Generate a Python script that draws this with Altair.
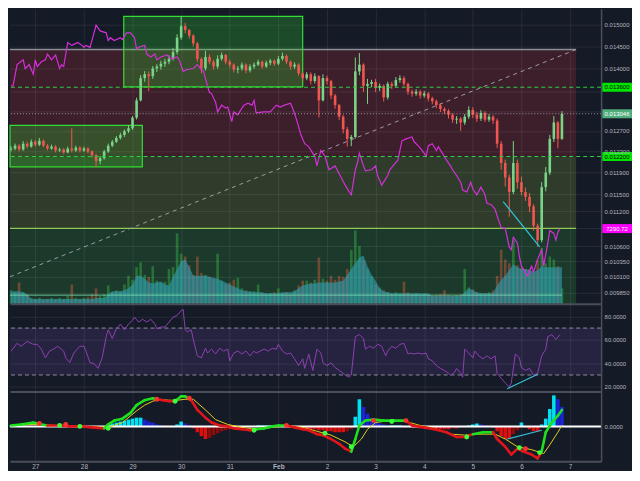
import altair as alt
import numpy as np
import pandas as pd

W, H1, H2, H3 = 593, 296, 88, 70
BG = "#151a27"
AXC = "#4a4e5a"
LBL = "#b2b5be"
FONT = "Liberation Sans"
BOX = "M-1,-0.3L1,-0.3L1,0.3L-1,0.3Z"

# ---------------- data (2-hour candles starting 2018-01-26 12:00) ----------------
candle_start = "2018-01-26 12:00"
first_open = 0.012335
close = [0.012353, 0.012409, 0.012335, 0.012447, 0.012391, 0.012485, 0.012428, 0.012504, 0.012409, 0.012353,
         0.012391, 0.012316, 0.012335, 0.012279, 0.012353, 0.012316, 0.012372, 0.012316, 0.012353, 0.012297,
         0.012223, 0.012113, 0.012168, 0.012297, 0.012409, 0.012485, 0.012561, 0.012618, 0.012694, 0.012752,
         0.012966, 0.013324, 0.013796, 0.013880, 0.013838, 0.014007, 0.014049, 0.014113, 0.014156, 0.014220,
         0.014372, 0.014701, 0.014970, 0.014880, 0.014746, 0.014568, 0.014220, 0.014007, 0.014263, 0.014156,
         0.014049, 0.014220, 0.014306, 0.014156, 0.014091, 0.013985, 0.014007, 0.014091, 0.013964, 0.014049,
         0.014091, 0.014156, 0.014049, 0.014134, 0.014177, 0.014113, 0.014220, 0.014285, 0.014156, 0.014049,
         0.014091, 0.013901, 0.013796, 0.013880, 0.013734, 0.013838, 0.013324, 0.013796, 0.013734, 0.013425,
         0.013224, 0.012986, 0.012733, 0.012542, 0.012580, 0.013943, 0.014091, 0.013630, 0.013672, 0.013713,
         0.013589, 0.013630, 0.013385, 0.013672, 0.013630, 0.013755, 0.013796, 0.013672, 0.013507, 0.013466,
         0.013507, 0.013425, 0.013466, 0.013365, 0.013304, 0.013224, 0.013144, 0.013104, 0.013025, 0.012927,
         0.012947, 0.012869, 0.012986, 0.013124, 0.013025, 0.012947, 0.013065, 0.012927, 0.012986, 0.012908,
         0.012447, 0.012076, 0.011805, 0.011540, 0.012076, 0.011716, 0.011540, 0.011453, 0.011281, 0.010945,
         0.010699, 0.011628, 0.011895, 0.012542, 0.012869, 0.012542, 0.013046]
high = [0.01240, 0.01245, 0.01244, 0.01250, 0.01249, 0.01253, 0.01252, 0.01256, 0.01253, 0.01244,
        0.01243, 0.01242, 0.01237, 0.01236, 0.01239, 0.01275, 0.01241, 0.01240, 0.01239, 0.01238,
        0.01232, 0.01225, 0.01221, 0.01233, 0.01245, 0.01252, 0.01260, 0.01266, 0.01273, 0.01281,
        0.01300, 0.01338, 0.01386, 0.01395, 0.01394, 0.01406, 0.01410, 0.01418, 0.01422, 0.01430,
        0.01446, 0.01478, 0.01520, 0.01505, 0.01490, 0.01478, 0.01460, 0.01425, 0.01440, 0.01432,
        0.01420, 0.01430, 0.01436, 0.01433, 0.01420, 0.01412, 0.01406, 0.01414, 0.01412, 0.01410,
        0.01414, 0.01420, 0.01418, 0.01418, 0.01422, 0.01421, 0.01428, 0.01436, 0.01432, 0.01418,
        0.01414, 0.01412, 0.01392, 0.01393, 0.01392, 0.01390, 0.01386, 0.01388, 0.01385, 0.01376,
        0.01346, 0.01325, 0.01302, 0.01278, 0.01262, 0.01425, 0.01435, 0.01412, 0.01378, 0.01376,
        0.01378, 0.01368, 0.01366, 0.01372, 0.01372, 0.01382, 0.01386, 0.01384, 0.01370, 0.01355,
        0.01356, 0.01354, 0.01352, 0.01350, 0.01340, 0.01334, 0.01326, 0.01318, 0.01314, 0.01306,
        0.01300, 0.01298, 0.01304, 0.01320, 0.01318, 0.01308, 0.01312, 0.01310, 0.01304, 0.01302,
        0.01295, 0.01250, 0.01214, 0.01186, 0.01250, 0.01214, 0.01182, 0.01162, 0.01152, 0.01132,
        0.01098, 0.01172, 0.01200, 0.01262, 0.01300, 0.01290, 0.01310]
low = [0.01230, 0.01232, 0.01230, 0.01231, 0.01236, 0.01237, 0.01239, 0.01240, 0.01238, 0.01232,
       0.01233, 0.01228, 0.01229, 0.01225, 0.01226, 0.01228, 0.01229, 0.01228, 0.01229, 0.01226,
       0.01218, 0.01200, 0.01205, 0.01214, 0.01227, 0.01238, 0.01246, 0.01253, 0.01258, 0.01266,
       0.01272, 0.01293, 0.01330, 0.01372, 0.01352, 0.01378, 0.01393, 0.01398, 0.01404, 0.01410,
       0.01418, 0.01432, 0.01465, 0.01480, 0.01468, 0.01450, 0.01415, 0.01390, 0.01396, 0.01410,
       0.01398, 0.01400, 0.01418, 0.01410, 0.01402, 0.01392, 0.01390, 0.01396, 0.01390, 0.01392,
       0.01400, 0.01406, 0.01400, 0.01402, 0.01408, 0.01406, 0.01408, 0.01418, 0.01410, 0.01398,
       0.01400, 0.01385, 0.01374, 0.01375, 0.01366, 0.01368, 0.01297, 0.01330, 0.01366, 0.01335,
       0.01315, 0.01292, 0.01265, 0.01239, 0.01240, 0.01255, 0.01386, 0.01350, 0.01325, 0.01360,
       0.01350, 0.01352, 0.01330, 0.01334, 0.01356, 0.01360, 0.01370, 0.01362, 0.01344, 0.01340,
       0.01342, 0.01336, 0.01338, 0.01330, 0.01324, 0.01316, 0.01308, 0.01304, 0.01295, 0.01286,
       0.01284, 0.01270, 0.01282, 0.01294, 0.01296, 0.01288, 0.01290, 0.01288, 0.01288, 0.01284,
       0.01236, 0.01195, 0.01164, 0.01110, 0.01150, 0.01160, 0.01148, 0.01138, 0.01118, 0.01086,
       0.01059, 0.01066, 0.01155, 0.01185, 0.01248, 0.01236, 0.01252]
volume = [140, 120, 220, 120, 100, 60, 50, 60, 40, 50,
          60, 50, 60, 50, 80, 200, 60, 50, 60, 70,
          100, 160, 80, 100, 190, 120, 140, 130, 200, 290,
          250, 380, 430, 300, 280, 390, 240, 220, 230, 360,
          380, 730, 520, 490, 400, 300, 490, 320, 300, 280,
          260, 520, 240, 200, 220, 250, 270, 160, 140, 120,
          130, 200, 110, 100, 110, 120, 160, 110, 120, 100,
          140, 190, 240, 240, 220, 250, 480, 260, 240, 290,
          250, 290, 280, 360, 560, 760, 600, 450, 360, 280,
          200, 170, 140, 120, 110, 120, 110, 230, 120, 100,
          110, 90, 100, 90, 80, 90, 100, 140, 90, 80,
          90, 100, 360, 170, 150, 120, 110, 110, 120, 140,
          290, 560, 460, 420, 660, 400, 370, 360, 360, 340,
          450, 580, 420, 490, 460, 390, 160]
volume_ma = [130, 130, 130, 120, 100, 50, 50, 50, 50, 50,
             50, 50, 50, 50, 50, 50, 50, 50, 50, 50,
             50, 60, 60, 60, 100, 130, 130, 130, 140, 160,
             200, 290, 290, 260, 220, 210, 220, 230, 200, 190,
             280, 360, 440, 460, 380, 290, 290, 290, 290, 280,
             270, 260, 240, 220, 200, 180, 160, 140, 130, 130,
             120, 120, 120, 110, 110, 110, 110, 120, 120, 120,
             130, 160, 190, 200, 210, 210, 220, 220, 220, 220,
             220, 230, 240, 300, 360, 420, 480, 500, 390, 300,
             240, 160, 130, 120, 110, 110, 110, 110, 110, 110,
             110, 110, 110, 110, 80, 80, 80, 80, 80, 80,
             80, 80, 120, 160, 140, 120, 110, 110, 110, 110,
             190, 250, 290, 350, 410, 380, 360, 360, 350, 330,
             350, 390, 380, 380, 380, 380, 380]
macd_hist = [1, 1, 1, 1, 0, 0, 0, 0, 0, 0,
             0, 0, 0, 0, 0, 0, 0, 0, 0, 0,
             -1, -1, -1, 0, 2, 3, 4, 5, 6, 7,
             8, 9, 9, 7, 5, 4, 2, 1, 0, 0,
             0, 2, 5, 3, 1, -2, -6, -10, -13, -12,
             -9, -7, -5, -4, -3, -2, -2, -1, -1, -1,
             0, 1, 1, 1, 1, 1, 1, 0, 0, -1,
             -1, -2, -2, -3, -3, -3, -4, -4, -5, -5,
             -6, -6, -6, -5, -3, 10, 28, 20, 13, 8,
             5, 3, 2, 1, 1, 1, 1, 0, 0, -1,
             -1, -2, -2, -2, -2, -3, -3, -3, -3, -2,
             -2, -1, 0, 1, 2, 3, 2, 1, 0, -1,
             -5, -10, -13, -13, -8, -4, 4, -1, -3, -5,
             -5, 2, 8, 18, 32, 28, 20]

# BTC/USD overlay (hours after candle_start)
btc_hours = [0, 1, 3, 6, 7, 9, 11, 12, 13, 15,
             17, 18, 20, 22, 24, 25, 26, 28, 30, 31,
             33, 35, 36, 37, 39, 41, 42, 44, 47, 48,
             49, 51, 54, 55, 57, 59, 61, 62, 63, 66,
             67, 69, 71, 72, 74, 77, 79, 82, 83, 85,
             87, 90, 92, 94, 95, 97, 98, 99, 101, 102,
             104, 106, 107, 109, 110, 112, 114, 115, 117, 119,
             120, 121, 125, 128, 131, 133, 135, 138, 139, 141,
             143, 144, 145, 147, 149, 150, 151, 153, 155, 156,
             157, 160, 163, 165, 167, 168, 169, 170, 171, 172,
             174, 175, 178, 180, 181, 183, 186, 187, 189, 191,
             192, 193, 195, 198, 199, 201, 203, 205, 206, 208,
             210, 211, 213, 215, 217, 218, 220, 222, 223, 225,
             227, 228, 230, 232, 234, 235, 237, 239, 240, 242,
             244, 246, 247, 248, 250, 251, 252, 253, 255, 257,
             258, 260, 262, 263, 265, 266, 268, 269, 270, 271]
btc = [10251, 10251, 10691, 10791, 10611, 10691, 10491, 10791, 10651, 10751,
       10791, 10911, 10791, 10891, 10611, 10691, 10651, 11151, 11091, 11111,
       11151, 11091, 11051, 11091, 11051, 11351, 11511, 11391, 11351, 11191,
       11251, 11191, 11251, 11211, 11351, 11351, 11251, 11011, 11051, 11091,
       10911, 10851, 10911, 10791, 10851, 10891, 10811, 10851, 10791, 10551,
       10591, 10611, 10691, 10591, 10551, 10251, 10111, 10091, 9911, 9711,
       9851, 9791, 9811, 9511, 9711, 9651, 9791, 9851, 9891, 9851,
       9951, 9691, 9711, 9711, 9851, 9811, 9851, 9891, 9791, 9551,
       9251, 9151, 9051, 8991, 8851, 8791, 8591, 8911, 8791, 8651,
       8511, 8591, 8351, 8191, 8051, 7991, 8251, 8511, 8651, 8851,
       8591, 8491, 8511, 8591, 8391, 8191, 8391, 8511, 8611, 8711,
       8911, 9111, 9151, 9191, 9091, 9011, 8911, 8791, 9011, 9051,
       8911, 8991, 8851, 8711, 8591, 8511, 8391, 8251, 8091, 8051,
       8251, 8111, 7991, 8151, 7991, 7811, 7791, 7691, 7551, 7311,
       7291, 6911, 6851, 7111, 6991, 6711, 6511, 6451, 6311, 6511,
       6391, 6651, 6851, 6511, 6991, 7251, 7191, 7051, 7211, 7290.72]

rsi_hours = [0, 3, 5, 8, 11, 13, 15, 17, 19, 21,
             23, 26, 27, 29, 31, 34, 36, 37, 39, 41,
             43, 45, 47, 48, 50, 52, 54, 56, 58, 60,
             61, 63, 65, 67, 69, 71, 72, 74, 76, 78,
             80, 82, 84, 85, 86, 87, 89, 90, 92, 94,
             96, 97, 99, 101, 103, 105, 107, 108, 110, 112,
             114, 116, 118, 120, 121, 123, 125, 127, 129, 131,
             132, 134, 136, 138, 140, 142, 144, 145, 147, 149,
             151, 153, 154, 156, 158, 160, 162, 164, 165, 167,
             168, 170, 172, 174, 175, 177, 179, 181, 183, 185,
             186, 188, 190, 192, 194, 196, 197, 199, 201, 203,
             205, 206, 208, 210, 212, 214, 216, 217, 219, 220,
             222, 223, 224, 226, 228, 229, 231, 233, 235, 237,
             239, 240, 242, 244, 246, 247, 249, 251, 252, 254,
             256, 258, 260, 262, 264, 265, 267, 269, 271]
rsi = [50.4, 57.0, 54.5, 58.6, 56.1, 56.1, 52.0, 44.6, 50.4, 52.0,
       54.5, 50.4, 44.6, 40.5, 48.7, 54.5, 54.5, 50.4, 40.5, 39.7,
       35.6, 44.6, 62.7, 68.5, 61.1, 69.3, 73.4, 68.5, 73.4, 76.7,
       79.2, 75.1, 77.5, 75.1, 77.5, 73.4, 69.3, 70.9, 70.9, 75.1,
       79.2, 80.8, 84.9, 85.8, 68.5, 66.8, 68.5, 60.2, 46.3, 44.6,
       52.8, 48.7, 52.0, 47.9, 52.8, 50.4, 52.0, 42.1, 48.7, 50.4,
       47.9, 50.4, 46.3, 50.4, 48.7, 50.4, 52.0, 50.4, 52.8, 52.0,
       56.1, 50.4, 47.9, 48.7, 43.8, 38.0, 43.8, 35.6, 47.9, 33.9,
       52.0, 48.7, 40.5, 38.0, 40.5, 36.4, 33.9, 31.4, 29.8, 28.1,
       29.8, 62.7, 64.4, 61.1, 52.0, 54.5, 52.8, 56.1, 54.5, 46.3,
       50.4, 54.5, 52.8, 56.1, 57.0, 47.9, 48.7, 47.9, 48.7, 47.9,
       48.7, 43.8, 42.1, 38.0, 35.6, 33.9, 31.4, 29.8, 32.3, 35.6,
       31.4, 28.1, 52.0, 48.7, 44.6, 50.4, 46.3, 43.8, 46.3, 43.8,
       46.3, 31.4, 27.3, 23.2, 19.9, 23.2, 47.9, 44.6, 36.4, 33.9,
       35.6, 29.8, 31.4, 46.3, 52.0, 62.7, 64.4, 60.2, 64.4]

# MACD values in units of 1e-5
macd_hours = [0, 5, 11, 15, 18, 24, 29, 35, 40, 46,
              48, 51, 55, 59, 62, 66, 70, 72, 75, 78,
              81, 84, 86, 89, 92, 96, 99, 103, 107, 110,
              114, 118, 121, 125, 129, 132, 136, 140, 144, 147,
              151, 154, 158, 162, 165, 168, 170, 172, 175, 179,
              184, 189, 195, 198, 204, 209, 215, 220, 224, 228,
              233, 238, 240, 244, 247, 250, 253, 257, 260, 262,
              264, 267, 270, 272]
macd = [1, 2, 4, 2, 1, 1, 0, 0, -1, -2,
        2, 6, 8, 14, 22, 27, 29, 28, 27, 26,
        26, 31, 31, 27, 17, 9, 4, 1, 0, -2,
        -3, -4, -3, -2, 0, 1, 1, -1, -3, -4,
        -8, -9, -13, -18, -23, -26, -13, 1, 6, 7,
        6, 6, 6, 1, -1, -3, -6, -11, -11, -8,
        -6, -6, -13, -21, -29, -23, -26, -29, -33, -26,
        -6, 4, 11, 17]
signal_hours = [0, 11, 22, 37, 48, 55, 62, 66, 70, 74,
                78, 82, 86, 90, 96, 101, 107, 114, 121, 129,
                136, 144, 151, 158, 165, 169, 173, 176, 180, 187,
                195, 202, 209, 217, 224, 231, 239, 244, 250, 257,
                263, 266, 270, 272]
signal = [1, 2, 1, 0, -1, 4, 16, 22, 26, 28,
          27, 27, 28, 28, 17, 7, 2, -1, -3, -1,
          1, -1, -5, -9, -16, -21, -13, -3, 4, 6,
          5, 1, -2, -8, -9, -8, -8, -13, -21, -24,
          -28, -19, -6, 1]
cross_hours = [24, 34, 48, 81, 120, 155, 168, 188, 225, 251, 261,
               14, 27, 72, 88, 136, 179, 195, 254]
cross_vals = [1, 0, -2, 26, -4, -7, -21, 5, -11, -22, -27,
              3, 2, 28, 29, 1, 6, 6, -23]
cross_kind = ["up"] * 11 + ["down"] * 8

# levels, zones and drawings
price_top, price_floor = 0.015383, 0.009683
zone_top, resistance, support, zone_split = 0.01443, 0.0136, 0.0122, 0.0109
last_price, btc_last = 0.013046, 7290.72
zone_t = ["2018-01-26T11:30:00", "2018-02-07T03:00:00"]
box_t1 = ["2018-01-26T11:30:00", "2018-01-28T19:40:00"]
box_t2 = ["2018-01-29T04:50:00", "2018-02-01T12:00:00"]
box_hi = [0.01281, 0.015199]
box_lo = [0.012004, 0.01361]
diag_t = ["2018-01-26T11:30:00", "2018-02-07T03:00:00"]
diag_p = [0.010103, 0.01443]
div_price_hours, div_price = [243, 261], [0.011367, 0.010587]
div_rsi_hours, div_rsi = [245, 260], [18.3, 30.6]
div_macd_hours, div_macd = [245, 262], [-13, -4]
vol_ref = 90
vol_ref_end = "2018-02-06T20:00:00"

# ---------------- frames ----------------
t0 = pd.Timestamp(candle_start)


def at(hours):
    return [t0 + pd.Timedelta(hours=float(h)) for h in hours]


opens = [first_open] + close[:-1]
cdf = pd.DataFrame({
    "t": pd.date_range(t0, periods=len(close), freq="2h"),
    "open": opens, "close": close, "high": high, "low": low,
    "vol": volume, "vma": volume_ma, "hist": macd_hist,
})
cdf["dir"] = np.where(cdf["close"] >= cdf["open"], "up", "down")
prev = cdf["hist"].shift(1).fillna(0)
cdf["hkind"] = np.select(
    [(cdf["hist"] >= 0) & (cdf["hist"] >= prev), cdf["hist"] >= 0, cdf["hist"] <= prev],
    ["aqua", "blue", "red"], "maroon")

bdf = pd.DataFrame({"t": at(btc_hours), "btc": btc})
rdf = pd.DataFrame({"t": at(rsi_hours), "rsi": rsi})
sdf = pd.DataFrame({"t": at(signal_hours), "sig": signal})
mh = np.array(macd_hours, float)
mv = np.array(macd, float)
mid_h = (mh[:-1] + mh[1:]) / 2
mid_v = (mv[:-1] + mv[1:]) / 2
seg_kind = np.where(mid_v >= np.interp(mid_h, np.array(signal_hours, float), np.array(signal, float)), "up", "down")
segdf = pd.DataFrame({"t0": at(mh[:-1]), "t1": at(mh[1:]), "v0": mv[:-1], "v1": mv[1:], "kind": seg_kind})
xdf = pd.DataFrame({"t": at(cross_hours), "v": cross_vals, "kind": cross_kind})

# ---------------- scales / axes ----------------
xs = alt.Scale(domain=[alt.DateTime(year=2018, month=1, date=26, hours=11, minutes=30),
                       alt.DateTime(year=2018, month=2, date=7, hours=15, minutes=20)],
               padding=0, nice=False)
days = [alt.DateTime(year=2018, month=1, date=d) for d in range(27, 32)] + \
       [alt.DateTime(year=2018, month=2, date=d) for d in range(1, 8)]
axh = alt.Axis(values=days, labels=False, ticks=False, grid=True, gridColor="#ffffff", gridOpacity=0.08,
               domain=True, domainColor=AXC, domainWidth=2, title=None, zindex=1)
axb = alt.Axis(values=days, ticks=False, grid=True, gridColor="#ffffff", gridOpacity=0.08,
               domain=True, domainColor=AXC, domainWidth=2, title=None, zindex=1,
               labelExpr="date(datum.value) == 1 ? 'Feb' : '' + date(datum.value)",
               labelFontWeight={"condition": {"test": "date(datum.value) == 1", "value": "bold"}, "value": "normal"},
               labelFontSize=6.5, labelColor=LBL, labelPadding=2, labelFont=FONT)


def X(f, ax):
    return alt.X(f, type="temporal", scale=xs, axis=ax, title=None)


ps = alt.Scale(type="log", domain=[price_floor, price_top], nice=False, zero=False, padding=0)
bs = alt.Scale(domain=[5730.72, 11850.72], nice=False, zero=False, padding=0)
vs = alt.Scale(domain=[0, 3060], nice=False, padding=0)
rs = alt.Scale(domain=[15.9, 90.7], nice=False, zero=False, padding=0)
ms = alt.Scale(domain=[-36, 36], nice=False, zero=False, padding=0)

hidden = "(abs(datum.value-0.0135)<1e-7 || abs(datum.value-0.0131)<1e-7 || abs(datum.value-0.0109)<1e-7)"
pax = alt.Axis(orient="right", values=[0.015, 0.0145, 0.014, 0.0135, 0.0131, 0.0127, 0.0123, 0.0119,
                                       0.0115, 0.0112, 0.0109, 0.0106, 0.01035, 0.0101, 0.00985],
               labelExpr=hidden + " ? '' : format(datum.value, '.6f')", labelOverlap=False,
               grid=True, gridColor="#ffffff", gridOpacity=0.08, ticks=False, domain=True, domainColor=AXC,
               domainWidth=1.5, labelFontSize=6, labelColor=LBL, labelPadding=3, labelFont=FONT, title=None,
               zindex=1)
rax = alt.Axis(orient="right", values=[20, 40, 60, 80], format=".4f", labelOverlap=False,
               grid=True, gridColor="#ffffff", gridOpacity=0.08, ticks=False, domain=True, domainColor=AXC,
               domainWidth=1.5, labelFontSize=6, labelColor=LBL, labelPadding=3, labelFont=FONT, title=None,
               zindex=1)
max_ = alt.Axis(orient="right", values=[0], format=".4f", grid=False, ticks=False, domain=True,
                domainColor=AXC, domainWidth=1.5, labelFontSize=6, labelColor=LBL, labelPadding=3,
                labelFont=FONT, title=None, zindex=1)

# ---------------- price panel ----------------
zdf = pd.DataFrame({"t1": [zone_t[0]] * 3, "t2": [zone_t[1]] * 3,
                    "p1": [zone_top, support, zone_split], "p2": [support, zone_split, price_floor],
                    "fill": ["#3c1f2b", "#2f3c2b", "#1b3a2c"]})
zones = alt.Chart(zdf).mark_rect().encode(
    x=X("t1", axh), x2="t2:T",
    y=alt.Y("p1:Q", scale=ps, axis=pax), y2="p2:Q",
    color=alt.Color("fill:N", scale=None))

ldf = pd.DataFrame({"t1": [zone_t[0]] * 2, "t2": [zone_t[1]] * 2, "p": [zone_top, zone_split],
                    "c": ["#8d8f97", "#8bc34a"]})
zlines = alt.Chart(ldf).mark_rule(strokeWidth=1.3).encode(
    x=X("t1", axh), x2="t2:T", y=alt.Y("p:Q", scale=ps, axis=None), color=alt.Color("c:N", scale=None))

ddf = pd.DataFrame({"t": diag_t, "p": diag_p})
diag = alt.Chart(ddf).mark_line(color="#9a9ca4", strokeDash=[4, 4], strokeWidth=1).encode(
    x=X("t", axh), y=alt.Y("p:Q", scale=ps, axis=None))

gdf = pd.DataFrame({"t1": box_t1, "t2": box_t2, "hi": box_hi, "lo": box_lo})
boxes = alt.Chart(gdf).mark_rect(fill="#2bd12b", fillOpacity=0.27, stroke="#33dd33", strokeWidth=1.2).encode(
    x=X("t1", axh), x2="t2:T", y=alt.Y("hi:Q", scale=ps, axis=None), y2="lo:Q")

vbars = alt.Chart(cdf).mark_bar(size=2.6, opacity=0.85).encode(
    x=X("t", axh), y=alt.Y("vol:Q", scale=vs, axis=None),
    color=alt.Color("dir:N", scale=alt.Scale(domain=["up", "down"], range=["#2b7d3a", "#7a4e36"]), legend=None))
varea = alt.Chart(cdf).mark_area(color="#2f9db2", opacity=0.62).encode(
    x=X("t", axh), y=alt.Y("vma:Q", scale=vs, axis=None))
vrdf = pd.DataFrame({"t1": [zone_t[0]], "t2": [vol_ref_end], "v": [vol_ref]})
vrule = alt.Chart(vrdf).mark_rule(color="#7fe3b4", strokeWidth=1, opacity=0.8).encode(
    x=X("t1", axh), x2="t2:T", y=alt.Y("v:Q", scale=vs, axis=None))

ccol = alt.Color("dir:N", scale=alt.Scale(domain=["up", "down"], range=["#79d487", "#f0564f"]), legend=None)
wicks = alt.Chart(cdf).mark_rule(strokeWidth=1).encode(
    x=X("t", axh), y=alt.Y("low:Q", scale=ps, axis=None), y2="high:Q", color=ccol)
bodies = alt.Chart(cdf).mark_bar(size=2.6).encode(
    x=X("t", axh), y=alt.Y("open:Q", scale=ps, axis=None), y2="close:Q", color=ccol)

btc_line = alt.Chart(bdf).mark_line(color="#d42ed8", strokeWidth=1.2).encode(
    x=X("t", axh), y=alt.Y("btc:Q", scale=bs, axis=None))

hdf = pd.DataFrame({"p": [resistance, support]})
hlines = alt.Chart(hdf).mark_rule(color="#2ecc40", strokeDash=[4, 3], strokeWidth=1.2).encode(
    y=alt.Y("p:Q", scale=ps, axis=None))
lpdf = pd.DataFrame({"p": [last_price]})
lpline = alt.Chart(lpdf).mark_rule(color="#c8cad0", strokeDash=[1, 2], strokeWidth=1, opacity=0.7).encode(
    y=alt.Y("p:Q", scale=ps, axis=None))
dvp = pd.DataFrame({"t": at(div_price_hours), "p": div_price})
divp = alt.Chart(dvp).mark_line(color="#2ec4d6", strokeWidth=1.2).encode(
    x=X("t", axh), y=alt.Y("p:Q", scale=ps, axis=None))

pl = pd.DataFrame({"p": [resistance, last_price, support],
                   "label": ["0.013600", "0.013046", "0.012200"],
                   "bg": ["#00e600", "#4fae7c", "#00e600"], "fg": ["#000000", "#ffffff", "#000000"]})
pbox = alt.Chart(pl).mark_point(shape=BOX, size=900, filled=True, opacity=1, strokeWidth=0).encode(
    x=alt.value(W + 16), y=alt.Y("p:Q", scale=ps, axis=None), color=alt.Color("bg:N", scale=None))
ptxt = alt.Chart(pl).mark_text(fontSize=6, font=FONT, align="center", baseline="middle").encode(
    x=alt.value(W + 16), y=alt.Y("p:Q", scale=ps, axis=None), text="label:N", color=alt.Color("fg:N", scale=None))
bl = pd.DataFrame({"v": [btc_last], "label": ["7290.72"]})
bbox = alt.Chart(bl).mark_point(shape=BOX, size=900, filled=True, opacity=1, strokeWidth=0, color="#ff00ff").encode(
    x=alt.value(W + 16), y=alt.Y("v:Q", scale=bs, axis=None))
btxt = alt.Chart(bl).mark_text(fontSize=6, font=FONT, align="center", baseline="middle", color="#ffffff").encode(
    x=alt.value(W + 16), y=alt.Y("v:Q", scale=bs, axis=None), text="label:N")

p1 = alt.layer(zones, zlines, diag, boxes, vbars, varea, vrule, wicks, bodies, btc_line,
               hlines, lpline, divp, pbox, ptxt, bbox, btxt).resolve_scale(
    y="independent", color="independent").properties(width=W, height=H1)

# ---------------- RSI panel ----------------
band = alt.Chart(pd.DataFrame({"a": [70], "b": [30]})).mark_rect(color="#7e57c2", opacity=0.16).encode(
    x=alt.value(0), x2=alt.value(W), y=alt.Y("a:Q", scale=rs, axis=rax), y2="b:Q")
rlines = alt.Chart(pd.DataFrame({"v": [70, 30]})).mark_rule(color="#8e909b", strokeDash=[4, 3]).encode(
    y=alt.Y("v:Q", scale=rs, axis=rax))
rline = alt.Chart(rdf).mark_line(color="#8e3fb0", strokeWidth=1).encode(
    x=X("t", axh), y=alt.Y("rsi:Q", scale=rs, axis=rax))
dvr = pd.DataFrame({"t": at(div_rsi_hours), "v": div_rsi})
divr = alt.Chart(dvr).mark_line(color="#2ec4d6", strokeWidth=1.2).encode(
    x=X("t", axh), y=alt.Y("v:Q", scale=rs, axis=rax))
p2 = alt.layer(band, rlines, rline, divr).properties(width=W, height=H2)

# ---------------- MACD panel ----------------
hbars = alt.Chart(cdf).mark_bar(size=3.6).encode(
    x=X("t", axb), y=alt.Y("hist:Q", scale=ms, axis=max_),
    color=alt.Color("hkind:N", scale=alt.Scale(domain=["aqua", "blue", "red", "maroon"],
                                                range=["#00e0f0", "#1b24d6", "#dd0f0f", "#8c0b0b"]), legend=None))
zero = alt.Chart(pd.DataFrame({"v": [0]})).mark_rule(color="#ffffff", strokeWidth=2).encode(
    y=alt.Y("v:Q", scale=ms, axis=max_))
sline = alt.Chart(sdf).mark_line(color="#e0cf1c", strokeWidth=1).encode(
    x=X("t", axb), y=alt.Y("sig:Q", scale=ms, axis=max_))
mseg = alt.Chart(segdf).mark_rule(strokeWidth=2.6, strokeCap="round").encode(
    x=X("t0", axb), x2="t1:T", y=alt.Y("v0:Q", scale=ms, axis=max_), y2="v1:Q",
    color=alt.Color("kind:N", scale=alt.Scale(domain=["up", "down"], range=["#1fe01f", "#e0161b"]), legend=None))
dots = alt.Chart(xdf).mark_circle(size=24, opacity=1).encode(
    x=X("t", axb), y=alt.Y("v:Q", scale=ms, axis=max_),
    color=alt.Color("kind:N", scale=alt.Scale(domain=["up", "down"], range=["#3dff3d", "#ff3030"]), legend=None))
dvm = pd.DataFrame({"t": at(div_macd_hours), "v": div_macd})
divm = alt.Chart(dvm).mark_line(color="#2ec4d6", strokeWidth=1.2).encode(
    x=X("t", axb), y=alt.Y("v:Q", scale=ms, axis=max_))
p3 = alt.layer(hbars, zero, sline, mseg, dots, divm).resolve_scale(color="independent").properties(
    width=W, height=H3)

chart = alt.vconcat(p1, p2, p3, spacing=0).resolve_scale(y="independent", color="independent").properties(
    background=BG, padding=0).configure_view(strokeWidth=0).configure_axis(labelFont=FONT)

chart.save("out.html", embed_options={"renderer": "svg", "actions": False})
